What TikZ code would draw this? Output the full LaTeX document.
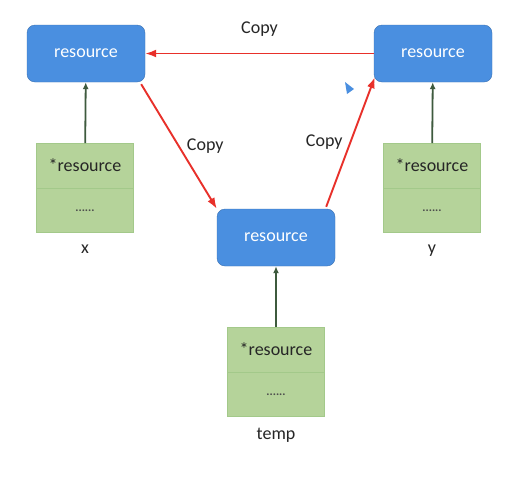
\documentclass[tikz,border=0pt]{standalone}
\usepackage{fontspec}
\setmainfont{Carlito}
\usepackage{xcolor}
\usetikzlibrary{positioning, arrows.meta}
\definecolor{resblue}{HTML}{4A8FE0}
\definecolor{ptrgreen}{HTML}{B5D39A}
\definecolor{ptrline}{HTML}{A3C98A}
\definecolor{ownline}{HTML}{3E5A3E}
\definecolor{copyred}{HTML}{E8302A}

\begin{document}
\begin{tikzpicture}[
  x=1pt, y=-1pt,
  font=\fontsize{18}{21}\selectfont,
  res/.style={rectangle, rounded corners=8pt, draw=resblue!80!black, fill=resblue, text=white,
              minimum width=118pt, minimum height=57pt, inner sep=0pt},
  ptr/.style={rectangle, draw=ptrline, fill=ptrgreen, text=black!85,
              minimum width=97pt, minimum height=44.5pt, inner sep=0pt},
  dots/.style={ptr, font=\fontsize{12}{13}\selectfont\bfseries, text=black!70},
  var/.style={inner sep=2pt, text=black!85},
  own/.style={-{Latex[length=7pt, width=6pt]}, line width=1.8pt, ownline},
  cp/.style={-{Latex[length=11pt, width=8pt]}, line width=1.9pt, copyred},
  lbl/.style={text=black!85, inner sep=1pt},
]
\useasboundingbox[fill=white] (0,0) rectangle (519,480);
% --- resources ---
\node[res] (rx) at (86,53.5) {resource};
\node[res] (ry) at (433,53.5) {resource};
\node[res] (rt) at (276,237.5) {resource};
% --- pointer objects ---
\node[ptr] (px) at (85,165.5) {*resource};
\node[dots, below=0pt of px] (dx) {......};
\node[var, below=10pt of dx] (vx) {x};
\node[ptr] (py) at (432,165.5) {*resource};
\node[dots, below=0pt of py] (dy) {......};
\node[var, below=10pt of dy] (vy) {y};
\node[ptr] (pt) at (276,349.5) {*resource};
\node[dots, below=0pt of pt] (dt) {......};
\node[var, below=9pt of dt] (vt) {temp};
% --- ownership ---
\draw[own] (px) -- (rx);
\draw[own] (py) -- (ry);
\draw[own] (pt) -- (rt);
% --- copies ---
\draw[cp] (ry.west) -- node[lbl, above=15pt] {Copy} (rx.east);
\draw[cp] (rx.south east)++(-4,2) coordinate (cx) (cx) -- node[lbl, right=6pt, pos=0.5] {Copy} (rt.north west);
\draw[cp] (rt.north east)++(-9,-2) coordinate (ct) (ct) -- node[lbl, left=6pt, pos=0.5] {Copy} ([xshift=1pt,yshift=5pt]ry.south west);
% cursor
\fill[resblue] (345,82) -- (354,89) -- (347,94) -- cycle;
\end{tikzpicture}
\end{document}
